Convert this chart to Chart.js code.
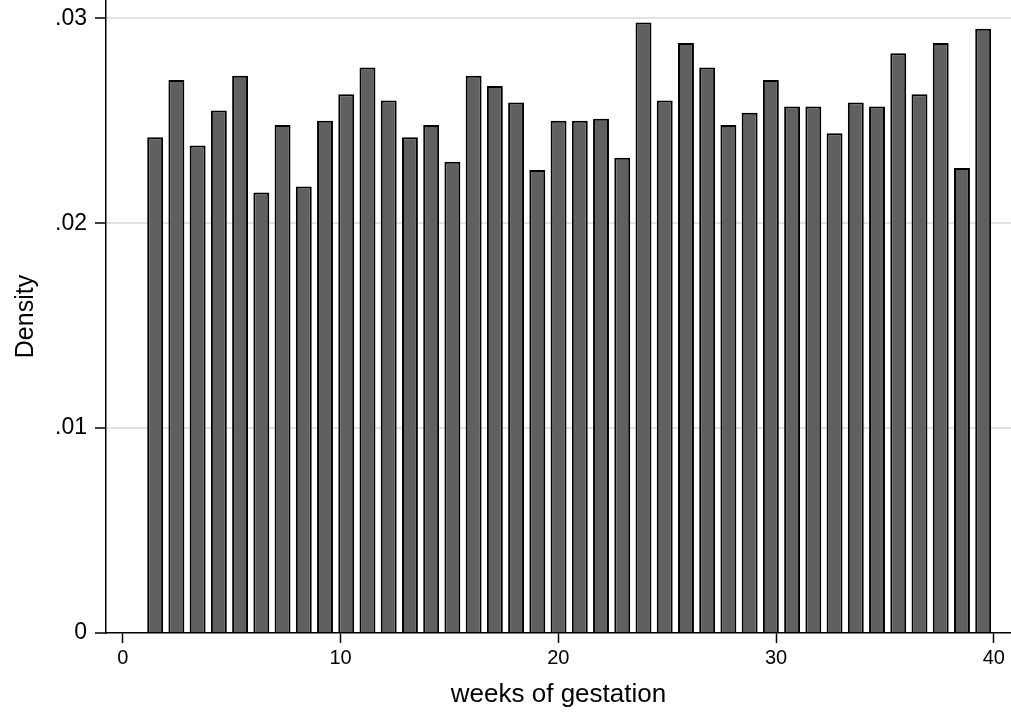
<!DOCTYPE html>
<html>
<head>
<meta charset="utf-8">
<script src="https://cdn.jsdelivr.net/npm/chart.js@4"></script>
<style>
  body { margin: 0; background: #fff; }
</style>
</head>
<body>
<canvas id="myChart" width="1011" height="714"></canvas>
<script>
// histogram: 40 bins over [1, 40]
const binStart = 1;
const binWidth = 0.975;
const density = [
  0.0242, 0.0270, 0.0238, 0.0255, 0.0272, 0.0215, 0.0248, 0.0218, 0.0250, 0.0263,
  0.0276, 0.0260, 0.0242, 0.0248, 0.0230, 0.0272, 0.0267, 0.0259, 0.0226, 0.0250,
  0.0250, 0.0251, 0.0232, 0.0298, 0.0260, 0.0288, 0.0276, 0.0248, 0.0254, 0.0270,
  0.0257, 0.0257, 0.0244, 0.0259, 0.0257, 0.0283, 0.0263, 0.0288, 0.0227, 0.0295,
];
const xTicks = [0, 10, 20, 30, 40];
const yTicks = [0, 0.01, 0.02, 0.03];

const points = density.map((d, i) => ({ x: binStart + (i + 0.5) * binWidth, y: d }));

Chart.defaults.font.family = '"Liberation Sans", Arial, sans-serif';
Chart.defaults.color = '#000';

const ctx = document.getElementById('myChart');
new Chart(ctx, {
  type: 'bar',
  data: {
    datasets: [
      {
        data: points,
        backgroundColor: '#606060',
        borderColor: '#000',
        borderWidth: 2,
        barPercentage: 0.75,
        categoryPercentage: 1,
      },
    ],
  },
  options: {
    responsive: false,
    animation: false,
    layout: { padding: 0 },
    plugins: {
      legend: { display: false },
      tooltip: { enabled: false },
    },
    scales: {
      x: {
        type: 'linear',
        offset: false,
        min: -0.77,
        max: 40.79,
        afterBuildTicks: (axis) => { axis.ticks = xTicks.map((v) => ({ value: v })); },
        afterFit: (axis) => { axis.height = 81; axis.paddingLeft = 0; axis.paddingRight = 0; },
        ticks: { font: { size: 20 }, padding: 3, maxRotation: 0 },
        grid: { offset: false, drawOnChartArea: false, drawTicks: true, tickLength: 10, tickColor: '#000', tickWidth: 1.5 },
        border: { display: true, color: '#000', width: 1.5 },
        title: { display: true, text: 'weeks of gestation', font: { size: 26 }, padding: { top: 0, bottom: 4 } },
      },
      y: {
        min: 0,
        max: 0.0309,
        afterBuildTicks: (axis) => { axis.ticks = yTicks.map((v) => ({ value: v })); },
        afterFit: (axis) => { axis.width = 106; axis.paddingTop = 0; axis.paddingBottom = 0; },
        ticks: {
          font: { size: 23 },
          padding: 8,
          callback: (v) => (v === 0 ? '0' : String(+v.toFixed(2)).replace(/^0/, '')),
        },
        grid: {
          color: (c) => (c.tick && c.tick.value === 0 ? 'rgba(0,0,0,0)' : '#e3e3e3'),
          lineWidth: 2,
          tickLength: 11,
          tickColor: '#000',
          tickWidth: 1.5,
        },
        border: { display: true, color: '#000', width: 1.5 },
        title: { display: true, text: 'Density', font: { size: 25 }, padding: { top: 11, bottom: 0 } },
      },
    },
  },
});
</script>
</body>
</html>
